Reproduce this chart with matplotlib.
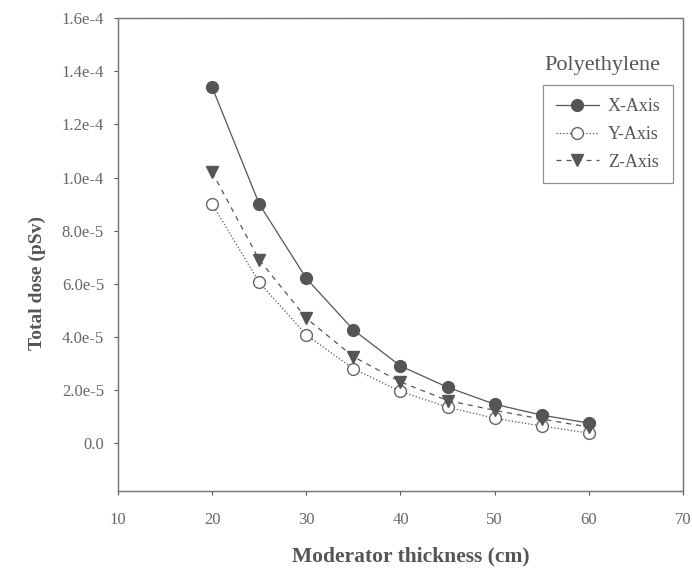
import numpy as np
import matplotlib.pyplot as plt

plt.rcParams["font.family"] = ["Liberation Serif", "DejaVu Serif"]

# Moderator thickness (cm)
thickness = [20, 25, 30, 35, 40, 45, 50, 55, 60]

# Total dose (pSv)
dose_x = [1.34e-4, 9.0e-5, 6.2e-5, 4.26e-5, 2.9e-5, 2.1e-5, 1.46e-5, 1.05e-5, 0.75e-5]
dose_y = [9.0e-5, 6.05e-5, 4.07e-5, 2.8e-5, 1.94e-5, 1.35e-5, 0.93e-5, 0.64e-5, 0.37e-5]
dose_z = [1.02e-4, 6.9e-5, 4.7e-5, 3.25e-5, 2.3e-5, 1.6e-5, 1.23e-5, 0.9e-5, 0.6e-5]

yticks = [0.0, 2e-5, 4e-5, 6e-5, 8e-5, 1e-4, 1.2e-4, 1.4e-4, 1.6e-4]
ytick_labels = ["0.0", "2.0e-5", "4.0e-5", "6.0e-5", "8.0e-5",
                "1.0e-4", "1.2e-4", "1.4e-4", "1.6e-4"]
xticks = [10, 20, 30, 40, 50, 60, 70]

ink = "#555555"
txt = "#666666"

fig = plt.figure(figsize=(6.92, 5.7), dpi=100)
ax = fig.add_axes([0.1705, 0.139, 0.8165, 0.829])

ax.plot(thickness, dose_x, "-", color=ink, lw=0.9, marker="o", ms=8.5,
        mfc="#555555", mec="#555555", label="X-Axis")
ax.plot(thickness, dose_y, ":", color=ink, lw=0.9, marker="o", ms=8.5,
        mfc="white", mec="#666666", label="Y-Axis")
ax.plot(thickness, dose_z, "--", color=ink, lw=0.9, marker="v", ms=8,
        mfc="#555555", mec="#555555", dashes=(4, 4), label="Z-Axis")

ax.set_xlim(10, 70)
ax.set_ylim(-1.8e-5, 1.6e-4)
ax.set_xticks(xticks)
ax.set_yticks(yticks)
ax.set_yticklabels(ytick_labels)
ax.tick_params(direction="out", length=3, width=0.8, color=ink,
               labelcolor=txt, labelsize=12, pad=7)
ax.tick_params(axis="x", pad=12)

for s in ax.spines.values():
    s.set_color("#777777")
    s.set_linewidth(1.0)
    s.set_linestyle((0, (1, 0.6)))

ax.set_xlabel("Moderator thickness (cm)", fontsize=15.5, fontweight="bold",
              color="#555555")
ax.xaxis.set_label_coords(0.519, -0.118)
ax.set_ylabel("Total dose (pSv)", fontsize=14, fontweight="bold",
              color="#555555")
ax.yaxis.set_label_coords(-0.128, 0.44)

ax.text(0.858, 0.9, "Polyethylene", transform=ax.transAxes, ha="center",
        va="center", fontsize=16, color="#555555")
leg = ax.legend(loc="upper right", bbox_to_anchor=(0.999, 0.877), fontsize=13,
                frameon=True, fancybox=False, handlelength=2.4,
                handletextpad=0.5, borderpad=0.7, labelspacing=0.6)
leg.get_frame().set_edgecolor("#777777")
leg.get_frame().set_linewidth(0.9)
for t in leg.get_texts():
    t.set_color("#555555")

fig.savefig("out.png", dpi=100)
